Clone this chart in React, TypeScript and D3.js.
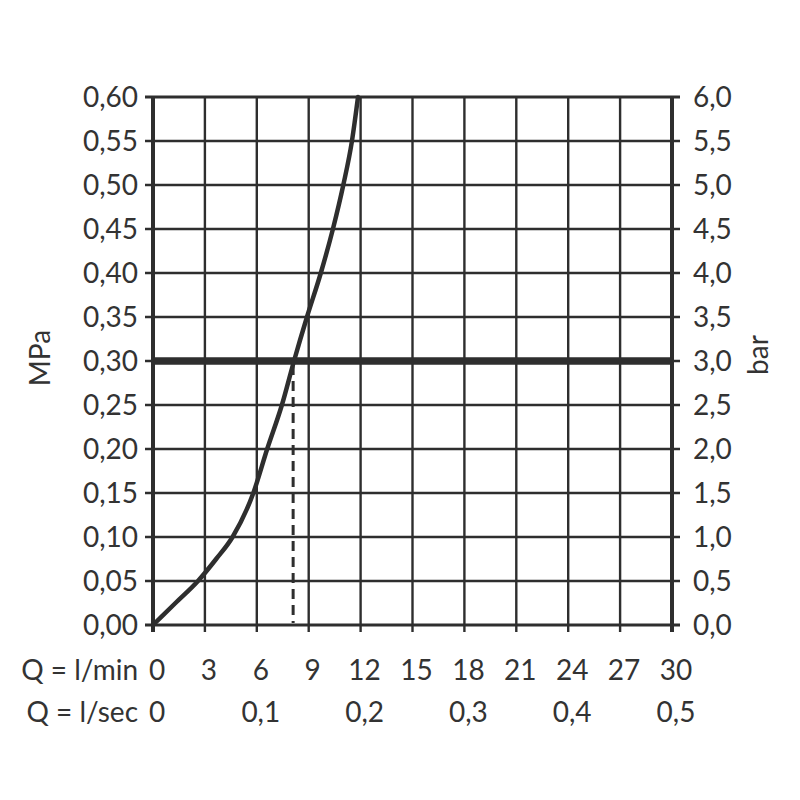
import React, { useRef, useEffect } from "react";
import * as d3 from "d3";

// flow curve (l/min vs MPa)
const flowLmin = [0, 1.3, 2.6, 3.65, 4.6, 5.8, 6.6, 7.45, 8.15, 8.9, 9.7, 10.4, 11.0, 11.5, 11.85];
const pressureMPa = [0, 0.025, 0.05, 0.075, 0.1, 0.15, 0.2, 0.25, 0.3, 0.35, 0.4, 0.45, 0.5, 0.55, 0.6];

const lminTicks = [0, 3, 6, 9, 12, 15, 18, 21, 24, 27, 30];
const lsecTicks = [0, 0.1, 0.2, 0.3, 0.4, 0.5];
const mpaTicks = [0, 0.05, 0.1, 0.15, 0.2, 0.25, 0.3, 0.35, 0.4, 0.45, 0.5, 0.55, 0.6];
const barTicks = [0, 0.5, 1, 1.5, 2, 2.5, 3, 3.5, 4, 4.5, 5, 5.5, 6];

const markPressure = 0.3;
const markFlow = 8.1;

const ink = "#2e2e2e";
const font = "Lato, 'Open Sans', sans-serif";

const App: React.FC = () => {
  const svgRef = useRef<SVGSVGElement>(null);

  useEffect(() => {
    if (!svgRef.current) return;
    const svg = d3.select(svgRef.current);
    svg.selectAll("*").remove();

    const left = 153, right = 672, top = 97, bottom = 625;
    const x = d3.scaleLinear().domain([0, 30]).range([left, right]);
    const y = d3.scaleLinear().domain([0, 0.6]).range([bottom, top]);
    const yBar = d3.scaleLinear().domain([0, 6]).range([bottom, top]);

    const comma = (f: string) => (v: number) => d3.format(f)(v).replace(".", ",");

    // horizontal grid + outer ticks
    svg.append("g")
      .selectAll("line")
      .data(mpaTicks)
      .join("line")
      .attr("x1", left - 8)
      .attr("x2", right + 8)
      .attr("y1", (d) => y(d))
      .attr("y2", (d) => y(d))
      .attr("stroke", ink)
      .attr("stroke-width", (d) => (d === 0 || d === 0.6 ? 3 : 2.4));

    // vertical grid + bottom ticks
    svg.append("g")
      .selectAll("line")
      .data(lminTicks)
      .join("line")
      .attr("x1", (d) => x(d))
      .attr("x2", (d) => x(d))
      .attr("y1", top)
      .attr("y2", bottom + 7)
      .attr("stroke", ink)
      .attr("stroke-width", (d) => (d === 0 || d === 30 ? 4 : 2.4));

    // reference pressure line
    svg.append("line")
      .attr("x1", left)
      .attr("x2", right)
      .attr("y1", y(markPressure))
      .attr("y2", y(markPressure))
      .attr("stroke", ink)
      .attr("stroke-width", 7.5);

    // dashed drop to flow axis
    svg.append("line")
      .attr("x1", x(markFlow))
      .attr("x2", x(markFlow))
      .attr("y1", y(markPressure) + 4)
      .attr("y2", y(0) - 2)
      .attr("stroke", ink)
      .attr("stroke-width", 3)
      .attr("stroke-dasharray", "10,6");

    // curve
    const pts = flowLmin.map((f, i) => [f, pressureMPa[i]] as [number, number]);
    const line = d3
      .line<[number, number]>()
      .x((d) => x(d[0]))
      .y((d) => y(d[1]))
      .curve(d3.curveMonotoneX);
    svg.append("path")
      .attr("d", line(pts))
      .attr("fill", "none")
      .attr("stroke", ink)
      .attr("stroke-width", 4.5)
      .attr("stroke-linecap", "round");

    const text = svg.append("g")
      .style("font-family", font)
      .style("font-size", "28px")
      .attr("fill", "#333");

    // left MPa labels
    text.append("g")
      .selectAll("text")
      .data(mpaTicks)
      .join("text")
      .attr("x", 138)
      .attr("y", (d) => y(d))
      .attr("dy", "0.34em")
      .attr("text-anchor", "end")
      .text((d) => comma(".2f")(d));

    // right bar labels
    text.append("g")
      .selectAll("text")
      .data(barTicks)
      .join("text")
      .attr("x", 693)
      .attr("y", (d) => yBar(d))
      .attr("dy", "0.34em")
      .attr("text-anchor", "start")
      .text((d) => comma(".1f")(d));

    // bottom rows
    text.append("g")
      .selectAll("text")
      .data(lminTicks)
      .join("text")
      .attr("x", (d) => x(d) + 4)
      .attr("y", 680)
      .attr("text-anchor", "middle")
      .text((d) => String(d));
    text.append("g")
      .selectAll("text")
      .data(lsecTicks)
      .join("text")
      .attr("x", (d) => x(d * 60) + 4)
      .attr("y", 722)
      .attr("text-anchor", "middle")
      .text((d) => (d === 0 ? "0" : comma(".1f")(d)));

    text.append("text")
      .attr("x", 138)
      .attr("y", 680)
      .attr("text-anchor", "end")
      .text("Q = l/min");
    text.append("text")
      .attr("x", 138)
      .attr("y", 722)
      .attr("text-anchor", "end")
      .text("Q = l/sec");

    // axis titles
    text.append("text")
      .attr("transform", "translate(50,358) rotate(-90)")
      .attr("text-anchor", "middle")
      .text("MPa");
    text.append("text")
      .attr("transform", "translate(768,355) rotate(-90)")
      .attr("text-anchor", "middle")
      .text("bar");

    return () => {
      svg.selectAll("*").remove();
    };
  }, []);

  return (
    <svg
      ref={svgRef}
      width={800}
      height={800}
      style={{ position: "absolute", left: 0, top: 0, background: "#fff" }}
    ></svg>
  );
};

export default App;
